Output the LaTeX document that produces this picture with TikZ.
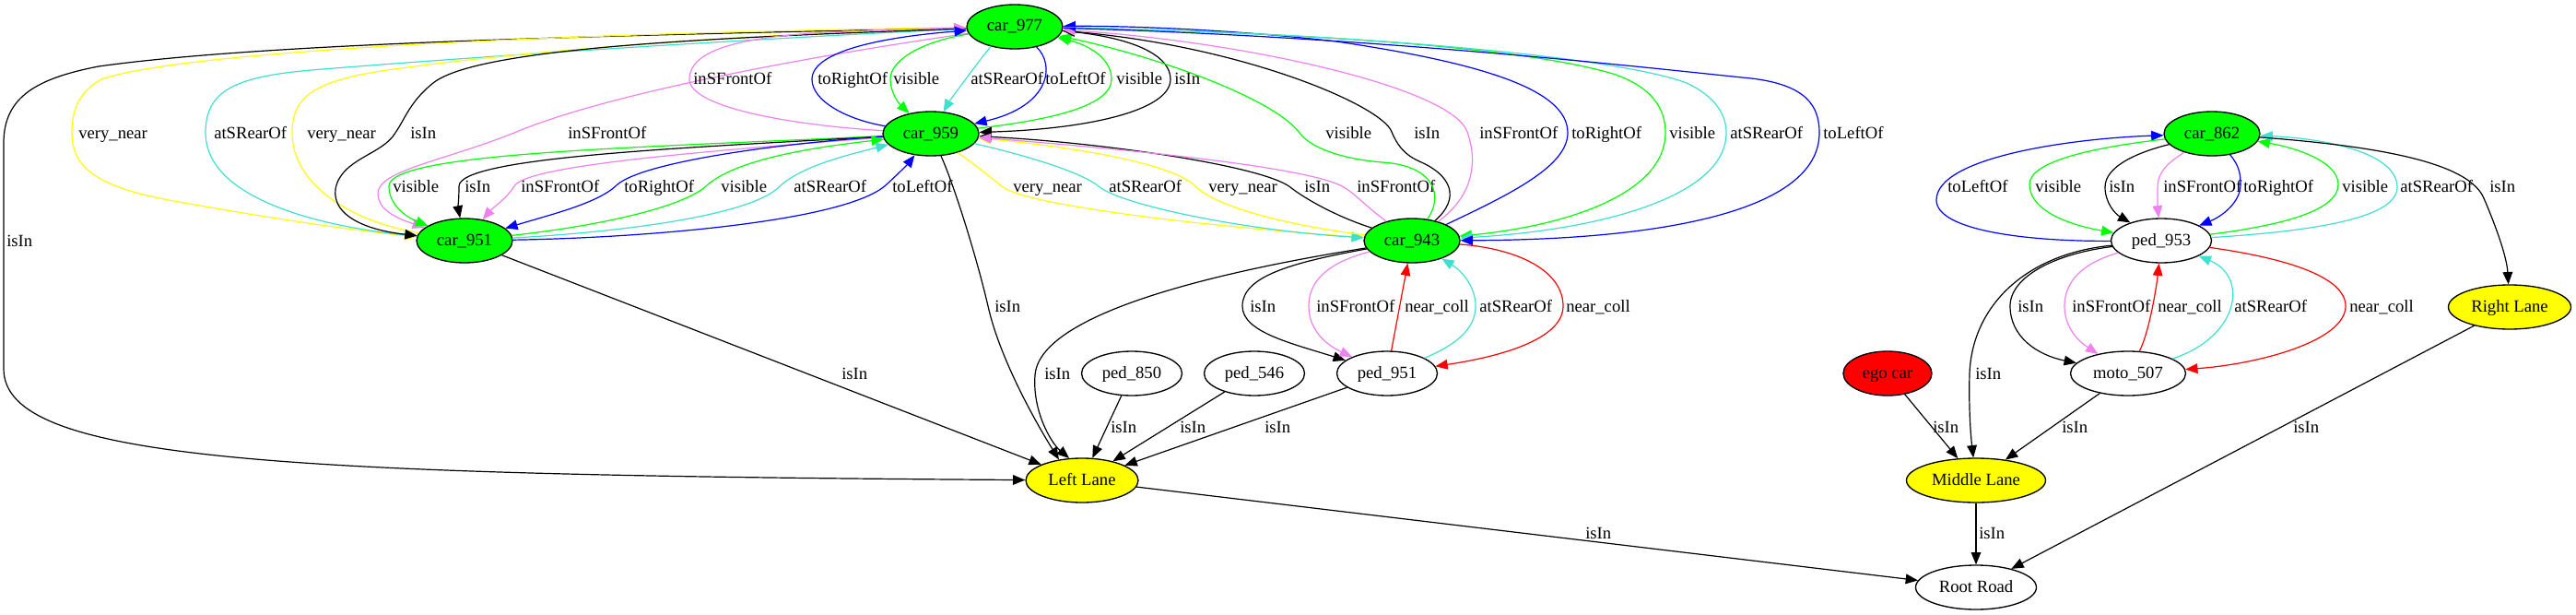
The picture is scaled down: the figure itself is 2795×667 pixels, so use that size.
\documentclass[tikz,border=0pt]{standalone}
\usepackage{fontspec}
\setmainfont{Liberation Serif}
\usetikzlibrary{shapes.geometric,arrows.meta}
\definecolor{cy}{HTML}{FFFF00}
\definecolor{ct}{HTML}{40E0D0}
\definecolor{cv}{HTML}{EE82EE}
\definecolor{cg}{HTML}{00FF00}
\definecolor{cb}{HTML}{0000FF}
\definecolor{cr}{HTML}{FF0000}
\begin{document}
\begin{tikzpicture}[x=0.75pt,y=-0.75pt,
  nd/.style={ellipse,draw=black,line width=1pt,inner sep=0pt,minimum height=36pt,font=\fontsize{14pt}{16pt}\selectfont,text height=9pt,text depth=1.5pt},
  e/.style={line width=0.9pt,-{Triangle[length=10pt,width=8pt]}},
  lb/.style={anchor=base west,inner sep=0pt,font=\fontsize{14pt}{16pt}\selectfont}]
\useasboundingbox[fill=white] (0,0) rectangle (2795,667);
% nodes
\node[nd,fill=cg,minimum width=78pt] (car977) at (1101,29) {car\_977};
\node[nd,fill=cg,minimum width=78pt] (car959) at (1010,145) {car\_959};
\node[nd,fill=cg,minimum width=78pt] (car951) at (504,261) {car\_951};
\node[nd,fill=cg,minimum width=78pt] (car943) at (1532,261) {car\_943};
\node[nd,minimum width=81.75pt] (ped850) at (1228,405) {ped\_850};
\node[nd,minimum width=81.75pt] (ped546) at (1361,405) {ped\_546};
\node[nd,minimum width=81.75pt] (ped951) at (1505,405) {ped\_951};
\node[nd,fill=cy,minimum width=91.5pt] (LL) at (1174,521) {Left Lane};
\node[nd,fill=cg,minimum width=78pt] (car862) at (2400,145) {car\_862};
\node[nd,minimum width=81.75pt] (ped953) at (2345,261) {ped\_953};
\node[nd,minimum width=93.75pt] (moto507) at (2309,405) {moto\_507};
\node[nd,fill=cr,minimum width=72pt] (ego) at (2048,405) {ego car};
\node[nd,fill=cy,minimum width=99.75pt] (RL) at (2723,333) {Right Lane};
\node[nd,fill=cy,minimum width=113.25pt] (ML) at (2144,521) {Middle Lane};
\node[nd,minimum width=98.25pt] (RR) at (2144,637) {Root Road};
% car977 <-> car951 and far left
\draw[e] (car977) .. controls (700,38) and (300,45) .. (107,72) .. controls (40,85) and (4,105) .. (4,155) -- (4,400) .. controls (4,500) and (300,515) .. (LL);
\node[lb] (l01) at (7,267) {isIn};
\draw[e,draw=cy] (car977) .. controls (600,36) and (200,55) .. (110,86) .. controls (85,100) and (78,120) .. (78,144) .. controls (78,185) and (110,205) .. (200,220) .. controls (300,238) and (400,252) .. (car951);
\node[lb] (l02) at (85,150) {very\_near};
\draw[e,draw=ct] (car951) .. controls (330,245) and (223,210) .. (223,144) .. controls (223,95) and (260,82) .. (350,75) .. controls (600,55) and (900,38) .. (car977);
\node[lb] (l03) at (232,150) {atSRearOf};
\draw[e,draw=cy] (car951) .. controls (380,240) and (317,200) .. (317,144) .. controls (317,105) and (340,88) .. (420,76) .. controls (620,48) and (900,34) .. (car977);
\node[lb] (l04) at (333,150) {very\_near};
\draw[e] (car977) .. controls (800,40) and (520,50) .. (470,90) .. controls (445,110) and (440,128) .. (429,144) .. controls (415,168) and (370,172) .. (364,205) .. controls (360,235) and (400,250) .. (car951);
\node[lb] (l05) at (445,150) {isIn};
\draw[e,draw=cv] (car977) .. controls (850,65) and (650,105) .. (558,144) .. controls (480,175) and (410,185) .. (410,210) .. controls (410,225) and (425,235) .. (car951);
\node[lb] (l06) at (616,150) {inSFrontOf};
% car959 <-> car951
\draw[e,draw=cg] (car959) .. controls (700,160) and (422,165) .. (422,202) .. controls (422,222) and (440,235) .. (car951);
\node[lb] (l07) at (426,208) {visible};
\draw[e] (car959) .. controls (750,160) and (498,170) .. (498,202) .. controls (498,215) and (497,225) .. (car951);
\node[lb] (l08) at (504,208) {isIn};
\draw[e,draw=cv] (car959) .. controls (750,165) and (570,180) .. (558,202) .. controls (550,215) and (535,225) .. (car951);
\node[lb] (l09) at (565,208) {inSFrontOf};
\draw[e,draw=cb] (car959) .. controls (850,155) and (700,175) .. (670,200) .. controls (650,220) and (600,232) .. (car951);
\node[lb] (l10) at (677,208) {toRightOf};
\draw[e,draw=cg] (car951) .. controls (650,245) and (740,225) .. (766,202) .. controls (800,170) and (900,158) .. (car959);
\node[lb] (l11) at (782,208) {visible};
\draw[e,draw=ct] (car951) .. controls (700,250) and (820,230) .. (846,202) .. controls (870,180) and (920,168) .. (car959);
\node[lb] (l12) at (861,208) {atSRearOf};
\draw[e,draw=cb] (car951) .. controls (700,258) and (920,240) .. (962,200) .. controls (975,188) and (985,178) .. (car959);
\node[lb] (l13) at (968,208) {toLeftOf};
% car977 <-> car959
\draw[e,draw=cv] (car959) .. controls (850,135) and (748,115) .. (748,86) .. controls (748,55) and (800,40) .. (900,35) .. controls (960,32) and (1000,31) .. (car977);
\node[lb] (l14) at (752,92) {inSFrontOf};
\draw[e,draw=cb] (car959) .. controls (920,130) and (881,110) .. (881,86) .. controls (881,55) and (960,40) .. (car977);
\node[lb] (l15) at (887,92) {toRightOf};
\draw[e,draw=cg] (car977) .. controls (1000,45) and (966,65) .. (966,86) .. controls (966,100) and (975,112) .. (car959);
\node[lb] (l16) at (969,92) {visible};
\draw[e,draw=ct] (car977) .. controls (1070,55) and (1030,110) .. (car959);
\node[lb] (l17) at (1053,92) {atSRearOf};
\draw[e,draw=cb] (car977) .. controls (1145,70) and (1140,115) .. (car959);
\node[lb] (l18) at (1134,92) {toLeftOf};
\draw[e,draw=cg] (car959) .. controls (1140,130) and (1206,115) .. (1206,86) .. controls (1206,65) and (1185,50) .. (car977);
\node[lb] (l19) at (1211,92) {visible};
\draw[e] (car977) .. controls (1230,40) and (1270,60) .. (1270,86) .. controls (1270,120) and (1180,140) .. (car959);
\node[lb] (l20) at (1274,92) {isIn};
% car959 <-> car943
\draw[e,draw=cy] (car959) .. controls (1060,180) and (1078,195) .. (1087,202) .. controls (1110,222) and (1300,245) .. (car943);
\node[lb] (l21) at (1099,208) {very\_near};
\draw[e,draw=ct] (car959) .. controls (1120,170) and (1175,188) .. (1192,202) .. controls (1215,222) and (1350,250) .. (car943);
\node[lb] (l22) at (1203,208) {atSRearOf};
\draw[e,draw=cy] (car943) .. controls (1400,245) and (1320,225) .. (1297,202) .. controls (1270,175) and (1150,158) .. (car959);
\node[lb] (l23) at (1311,208) {very\_near};
\draw[e] (car943) .. controls (1450,235) and (1415,215) .. (1400,203) .. controls (1370,180) and (1200,155) .. (car959);
\node[lb] (l24) at (1415,208) {isIn};
\draw[e,draw=cv] (car943) .. controls (1480,222) and (1470,210) .. (1458,203) .. controls (1420,180) and (1200,160) .. (car959);
\node[lb] (l25) at (1472,208) {inSFrontOf};
% car977 <-> car943
\draw[e,draw=cg] (car943) .. controls (1565,215) and (1560,180) .. (1500,176) .. controls (1450,172) and (1420,158) .. (1410,144) .. controls (1380,105) and (1250,60) .. (car977);
\node[lb] (l26) at (1438,150) {visible};
\draw[e] (car943) .. controls (1585,215) and (1575,190) .. (1540,175) .. controls (1522,167) and (1515,155) .. (1510,143) .. controls (1500,115) and (1350,50) .. (car977);
\node[lb] (l27) at (1534,150) {isIn};
\draw[e,draw=cv] (car943) .. controls (1595,215) and (1605,180) .. (1592,143) .. controls (1575,95) and (1350,45) .. (car977);
\node[lb] (l28) at (1605,150) {inSFrontOf};
\draw[e,draw=cb] (car943) .. controls (1640,210) and (1701,180) .. (1701,144) .. controls (1701,100) and (1620,70) .. (1450,45) .. controls (1320,30) and (1200,28) .. (car977);
\node[lb] (l29) at (1705,150) {toRightOf};
\draw[e,draw=cg] (car977) .. controls (1400,35) and (1650,50) .. (1750,80) .. controls (1795,95) and (1807,120) .. (1807,144) .. controls (1807,210) and (1700,245) .. (car943);
\node[lb] (l30) at (1811,150) {visible};
\draw[e,draw=ct] (car977) .. controls (1450,35) and (1750,60) .. (1830,90) .. controls (1862,105) and (1873,125) .. (1873,144) .. controls (1873,215) and (1730,250) .. (car943);
\node[lb] (l31) at (1877,150) {atSRearOf};
\draw[e,draw=cb] (car977) .. controls (1500,40) and (1800,75) .. (1900,85) .. controls (1960,92) and (1974,115) .. (1974,144) .. controls (1974,230) and (1800,260) .. (car943);
\node[lb] (l32) at (1978,150) {toLeftOf};
% car943 <-> ped951
\draw[e] (car943) .. controls (1400,285) and (1348,300) .. (1348,332) .. controls (1348,360) and (1400,372) .. (ped951);
\node[lb] (l33) at (1356,338) {isIn};
\draw[e,draw=cv] (car943) .. controls (1440,285) and (1420,305) .. (1420,332) .. controls (1420,355) and (1435,372) .. (ped951);
\node[lb] (l34) at (1428,338) {inSFrontOf};
\draw[e,draw=cr] (ped951) -- (car943);
\node[lb] (l35) at (1524,338) {near\_coll};
\draw[e,draw=ct] (ped951) .. controls (1590,370) and (1601,350) .. (1601,332) .. controls (1601,310) and (1585,293) .. (car943);
\node[lb] (l36) at (1605,338) {atSRearOf};
\draw[e,draw=cr] (car943) .. controls (1650,270) and (1696,295) .. (1696,332) .. controls (1696,370) and (1620,388) .. (ped951);
\node[lb] (l37) at (1699,338) {near\_coll};
% to Left Lane
\draw[e] (car943) .. controls (1350,290) and (1128,335) .. (1123,407) .. controls (1120,445) and (1140,480) .. (LL.120);
\node[lb] (l38) at (1133,411) {isIn};
\draw[e] (car959) .. controls (1035,200) and (1060,280) .. (1072,332) .. controls (1085,390) and (1125,460) .. (LL.138);
\node[lb] (l39) at (1079,338) {isIn};
\draw[e] (car951) -- (LL);
\node[lb] (l40) at (913,411) {isIn};
\draw[e] (ped850) -- (LL);
\node[lb] (l41) at (1205,469) {isIn};
\draw[e] (ped546) -- (LL);
\node[lb] (l42) at (1280,469) {isIn};
\draw[e] (ped951) -- (LL);
\node[lb] (l43) at (1372,469) {isIn};
\draw[e] (LL) -- (RR);
\node[lb] (l44) at (1720,584) {isIn};
% cluster 2
\draw[e,draw=cb] (ped953) .. controls (2200,262) and (2101,250) .. (2101,217) .. controls (2101,170) and (2250,150) .. (car862);
\node[lb] (l45) at (2113,208) {toLeftOf};
\draw[e,draw=cg] (car862) .. controls (2270,160) and (2202,175) .. (2202,200) .. controls (2202,230) and (2250,245) .. (ped953);
\node[lb] (l46) at (2208,208) {visible};
\draw[e] (car862) .. controls (2320,165) and (2284,180) .. (2284,203) .. controls (2284,220) and (2295,232) .. (ped953);
\node[lb] (l47) at (2288,208) {isIn};
\draw[e,draw=cv] (car862) .. controls (2355,175) and (2341,185) .. (2341,203) .. controls (2341,215) and (2341,225) .. (ped953);
\node[lb] (l48) at (2347,208) {inSFrontOf};
\draw[e,draw=cb] (car862) .. controls (2430,180) and (2431,190) .. (2431,200) .. controls (2431,220) and (2410,235) .. (ped953);
\node[lb] (l49) at (2434,208) {toRightOf};
\draw[e,draw=cg] (ped953) .. controls (2470,245) and (2537,230) .. (2537,200) .. controls (2537,175) and (2490,160) .. (car862);
\node[lb] (l50) at (2541,208) {visible};
\draw[e,draw=ct] (ped953) .. controls (2520,250) and (2601,235) .. (2601,203) .. controls (2601,165) and (2520,150) .. (car862);
\node[lb] (l51) at (2604,208) {atSRearOf};
\draw[e] (car862) .. controls (2600,160) and (2680,180) .. (2695,215) .. controls (2710,250) and (2720,280) .. (RL);
\node[lb] (l52) at (2701,208) {isIn};
\draw[e] (ped953) .. controls (2230,275) and (2181,300) .. (2181,332) .. controls (2181,365) and (2210,385) .. (moto507);
\node[lb] (l53) at (2189,338) {isIn};
\draw[e,draw=cv] (ped953) .. controls (2260,285) and (2240,305) .. (2240,332) .. controls (2240,355) and (2255,370) .. (moto507);
\node[lb] (l54) at (2248,338) {inSFrontOf};
\draw[e,draw=cr] (moto507) .. controls (2332,360) and (2340,310) .. (ped953);
\node[lb] (l55) at (2341,338) {near\_coll};
\draw[e,draw=ct] (moto507) .. controls (2430,365) and (2440,300) .. (ped953);
\node[lb] (l56) at (2424,338) {atSRearOf};
\draw[e,draw=cr] (ped953) .. controls (2480,280) and (2545,300) .. (2545,332) .. controls (2545,370) and (2450,395) .. (moto507);
\node[lb] (l57) at (2549,338) {near\_coll};
\draw[e] (ped953) .. controls (2200,275) and (2140,330) .. (2137,405) .. controls (2136,440) and (2138,470) .. (ML);
\node[lb] (l58) at (2143,411) {isIn};
\draw[e] (ego) -- (ML);
\node[lb] (l59) at (2097,469) {isIn};
\draw[e] (moto507) -- (ML);
\node[lb] (l60) at (2237,469) {isIn};
\draw[e] (ML) -- (RR);
\node[lb] (l61) at (2147,584) {isIn};
\draw[e] (RL) -- (RR);
\node[lb] (l62) at (2488,469) {isIn};
\end{tikzpicture}
\end{document}
